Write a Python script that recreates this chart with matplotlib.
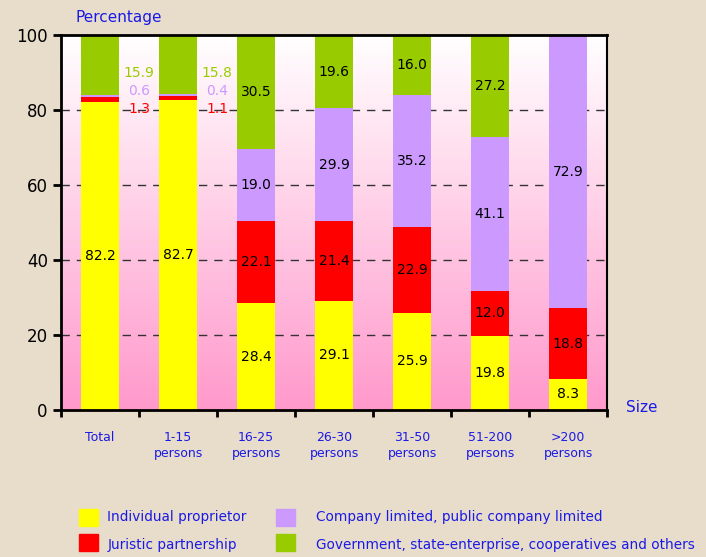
import numpy as np
import matplotlib
matplotlib.use("Agg")
import matplotlib.pyplot as plt
from matplotlib.patches import Rectangle
from matplotlib.colors import LinearSegmentedColormap

# data
categories = ["Total", "1-15\npersons", "16-25\npersons", "26-30\npersons",
              "31-50\npersons", "51-200\npersons", ">200\npersons"]
individual = [82.2, 82.7, 28.4, 29.1, 25.9, 19.8, 8.3]
juristic = [1.3, 1.1, 22.1, 21.4, 22.9, 12.0, 18.8]
company = [0.6, 0.4, 19.0, 29.9, 35.2, 41.1, 72.9]
government = [15.9, 15.8, 30.5, 19.6, 16.0, 27.2, 0.0]

series_names = ["Individual proprietor", "Juristic partnership",
                "Company limited, public company limited",
                "Government, state-enterprise, cooperatives and others"]
colors = ["#FFFF00", "#FF0000", "#CC99FF", "#99CC00"]
label_colors = ["#000000", "#FF0000", "#CC99FF", "#99CC00"]

bg = "#E8DCCB"
blue = "#1A1AE6"

fig = plt.figure(figsize=(7.06, 5.57), dpi=100, facecolor=bg)
ax = fig.add_axes([0.0864, 0.2639, 0.7734, 0.6733])

n = len(categories)
x = np.arange(n)

# gradient background, white at top to pink at bottom
cmap = LinearSegmentedColormap.from_list("bgpink", ["#FF99CC", "#FFFFFF"])
grad = np.linspace(0, 1, 256).reshape(-1, 1)
ax.imshow(grad, extent=[-0.5, n - 0.5, 0, 100], origin="lower", aspect="auto",
          cmap=cmap, zorder=0)

for y in [20, 40, 60, 80]:
    ax.axhline(y, color="#333333", lw=1.0, ls=(0, (6, 5)), zorder=1)

series = [individual, juristic, company, government]
bottom = np.zeros(n)
for vals, col in zip(series, colors):
    ax.bar(x, vals, 0.49, bottom=bottom, color=col, zorder=2)
    bottom += np.array(vals)

# value labels
bottom = np.zeros(n)
for k, vals in enumerate(series):
    for i, v in enumerate(vals):
        if v <= 0:
            continue
        small = max(juristic[i], company[i]) < 3
        if small and k > 0:
            # small segments: labels stacked to the right of the bar
            ypos = {1: 80.3, 2: 85.0, 3: 89.9}[k]
            ax.text(x[i] + 0.5, ypos, f"{v:.1f}", ha="center", va="center",
                    fontsize=10, color=label_colors[k], zorder=3)
        else:
            ax.text(x[i], bottom[i] + v / 2, f"{v:.1f}", ha="center",
                    va="center", fontsize=10, zorder=3)
    bottom += np.array(vals)

ax.set_xlim(-0.5, n - 0.5)
ax.set_ylim(0, 100)
ax.set_yticks([0, 20, 40, 60, 80, 100])
ax.tick_params(axis="y", labelsize=12, length=6, width=2, direction="out")
ax.set_xticks(np.arange(-0.5, n, 1.0))
ax.set_xticklabels([])
ax.tick_params(axis="x", length=5, width=2, direction="out")
for i, c in enumerate(categories):
    ax.text(x[i], -5.7, c, ha="center", va="top", fontsize=9, color=blue,
            linespacing=1.25)

for s in ["left", "bottom", "top"]:
    ax.spines[s].set_linewidth(2)
ax.spines["right"].set_linewidth(1.5)

fig.text(0.107, 0.968, "Percentage", color=blue, fontsize=11, va="center")
fig.text(0.887, 0.269, "Size", color=blue, fontsize=11, va="center")

# legend
square_pos = [(0.112, 0.071), (0.112, 0.026), (0.391, 0.071), (0.391, 0.026)]
text_pos = [(0.152, 0.072), (0.152, 0.0215), (0.447, 0.072), (0.447, 0.0215)]
for k in range(4):
    lx, ly = square_pos[k]
    fig.add_artist(Rectangle((lx, ly - 0.0153), 0.027, 0.0305, color=colors[k],
                             transform=fig.transFigure))
    tx, ty = text_pos[k]
    fig.text(tx, ty, series_names[k], color=blue, fontsize=9.8, va="center")

fig.savefig("out.png", dpi=100, facecolor=bg)
